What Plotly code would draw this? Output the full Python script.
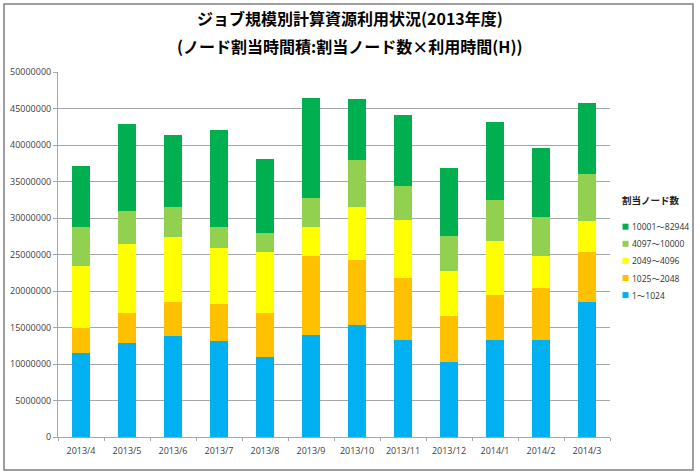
import plotly.graph_objects as go

months = ["2013/4", "2013/5", "2013/6", "2013/7", "2013/8", "2013/9", "2013/10",
          "2013/11", "2013/12", "2014/1", "2014/2", "2014/3"]

s_1_1024 = [11500000, 12900000, 13800000, 13100000, 11000000, 14000000, 15400000,
            13300000, 10300000, 13300000, 13300000, 18500000]
s_1025_2048 = [3500000, 4100000, 4700000, 5100000, 6000000, 10800000, 8800000,
               8500000, 6300000, 6100000, 7100000, 6900000]
s_2049_4096 = [8400000, 9400000, 8900000, 7700000, 8400000, 4000000, 7300000,
               7900000, 6200000, 7400000, 4400000, 4200000]
s_4097_10000 = [5400000, 4600000, 4100000, 2900000, 2600000, 3900000, 6400000,
                4700000, 4700000, 5600000, 5300000, 6400000]
s_10001_82944 = [8300000, 11900000, 9900000, 13300000, 10100000, 13700000, 8400000,
                 9700000, 9400000, 10800000, 9500000, 9700000]

series_names = ["1～1024", "1025～2048", "2049～4096", "4097～10000", "10001～82944"]
series_values = [s_1_1024, s_1025_2048, s_2049_4096, s_4097_10000, s_10001_82944]
colors = ["#00B0F0", "#FFC000", "#FFFF00", "#92D050", "#00B050"]
legend_title = "割当ノード数"

y_ticks = list(range(0, 50000001, 5000000))

fig = go.Figure()
for name, vals, col in zip(series_names, series_values, colors):
    fig.add_trace(go.Bar(x=months, y=vals, name=name, marker_color=col,
                         marker_line_width=0, showlegend=False))

L, R, T, B = 58, 90, 72, 39
W, H = 700, 476
pw, ph = W - L - R, H - T - B

def px(x):
    return (x - L) / pw

def py(y):
    return (H - B - y) / ph

shapes = [dict(type="rect", xref="paper", yref="paper",
               x0=px(4), x1=px(693), y0=py(470), y1=py(4),
               line=dict(color="#7F7F7F", width=1.5), fillcolor="rgba(0,0,0,0)")]
annotations = [
    dict(text="<b>ジョブ規模別計算資源利用状況(2013年度)</b>", xref="paper", yref="paper",
         x=px(350), y=py(18), xanchor="center", yanchor="middle", showarrow=False,
         font=dict(family="Noto Sans CJK JP", size=16, color="#000000")),
    dict(text="<b>(ノード割当時間積:割当ノード数×利用時間(H))</b>", xref="paper", yref="paper",
         x=px(350), y=py(46), xanchor="center", yanchor="middle", showarrow=False,
         font=dict(family="Noto Sans CJK JP", size=16, color="#000000")),
    dict(text="<b>" + legend_title + "</b>", xref="paper", yref="paper",
         x=px(620), y=py(200), xanchor="left", yanchor="middle", showarrow=False,
         font=dict(family="Noto Sans CJK JP", size=9.5, color="#202020")),
]

# legend entries (top item = last series)
leg_y0, leg_dy = 226.7, 17.1
for i, (name, col) in enumerate(reversed(list(zip(series_names, colors)))):
    yc = leg_y0 + i * leg_dy
    shapes.append(dict(type="rect", xref="paper", yref="paper",
                       x0=px(622.5), x1=px(628.5), y0=py(yc + 3), y1=py(yc - 3),
                       line=dict(width=0), fillcolor=col))
    annotations.append(dict(text=name, xref="paper", yref="paper",
                            x=px(630), y=py(yc), xanchor="left", yanchor="middle",
                            showarrow=False,
                            font=dict(family="Open Sans, Noto Sans CJK JP", size=8.5,
                                      color="#303030")))

fig.update_layout(
    width=W, height=H,
    margin=dict(l=L, r=R, t=T, b=B, autoexpand=False),
    paper_bgcolor="white", plot_bgcolor="white",
    barmode="stack", bargap=0.6, showlegend=False,
    font=dict(family="Open Sans, Noto Sans CJK JP", size=9, color="#404040"),
    xaxis=dict(showline=True, linecolor="#A6A6A6", linewidth=1, automargin=False,
               ticks="outside", tickson="boundaries", ticklen=3, tickcolor="#A6A6A6",
               ticklabelstandoff=5,
               tickangle=0, tickfont=dict(size=9, color="#404040"), showgrid=False),
    yaxis=dict(range=[0, 50000000], tickvals=y_ticks, tickformat="d", automargin=False,
               showline=True, linecolor="#A6A6A6", linewidth=1,
               ticks="outside", ticklen=4, tickcolor="#A6A6A6",
               gridcolor="#A6A6A6", gridwidth=1, zeroline=False,
               tickfont=dict(size=9, color="#404040")),
    shapes=shapes,
    annotations=annotations,
)

fig.write_html("out.html", config={"displayModeBar": False},
               post_script="document.body.style.margin='0';document.body.style.overflow='hidden';")
